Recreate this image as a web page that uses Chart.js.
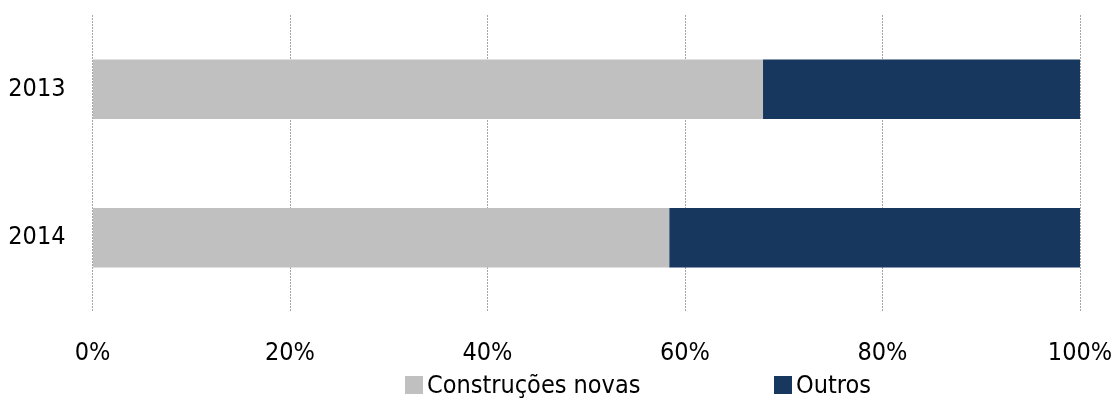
<!DOCTYPE html>
<html>
<head>
<meta charset="utf-8">
<script src="https://cdn.jsdelivr.net/npm/chart.js@4/dist/chart.umd.min.js"></script>
<style>
    body { margin: 0; background: #fff; }
    #wrap { position: relative; width: 1116px; height: 398px; }
    #legend { position: absolute; left: 0; top: 371px; width: 1116px; height: 27px;
        font-family: "DejaVu Sans Condensed", "DejaVu Sans", sans-serif; font-size: 25px; color: #000; }
    .item { position: absolute; top: 0; white-space: nowrap; line-height: 27px; }
    .box { display: inline-block; width: 18px; height: 18px; margin-right: 4px; vertical-align: -1px; }
</style>
</head>
<body>
<div id="wrap">
    <canvas id="myChart" width="1116" height="398"></canvas>
    <div id="legend"></div>
</div>
<script>
var years = ['2013', '2014'];
var seriesNames = ['Construções novas', 'Outros'];
var construcoes = [67.9, 58.4];
var outros = [32.1, 41.6];
var seriesColors = ['#c0c0c0', '#17375e'];
var xTicks = [0, 20, 40, 60, 80, 100];

var font = { family: '"DejaVu Sans Condensed", "DejaVu Sans", sans-serif', size: 25 };

var ctx = document.getElementById('myChart').getContext('2d');
var chart = new Chart(ctx, {
    type: 'bar',
    data: {
        labels: years,
        datasets: [{
            label: seriesNames[0],
            backgroundColor: seriesColors[0],
            data: construcoes
        }, {
            label: seriesNames[1],
            backgroundColor: seriesColors[1],
            data: outros
        }]
    },
    options: {
        indexAxis: 'y',
        responsive: false,
        animation: false,
        layout: { padding: { top: 15, right: 36, left: 0, bottom: 0 } },
        datasets: { bar: { barPercentage: 0.4, categoryPercentage: 1 } },
        plugins: {
            legend: { display: false },
            tooltip: { enabled: false }
        },
        scales: {
            x: {
                stacked: true,
                min: 0,
                max: 100,
                afterBuildTicks: function(axis) {
                    axis.ticks = xTicks.map(function(v) { return { value: v }; });
                },
                afterFit: function(axis) {
                    axis.height = 86;
                    axis.paddingLeft = 0;
                    axis.paddingRight = 0;
                },
                border: { display: false, dash: [2, 1] },
                grid: { color: '#a6a6a6', lineWidth: 1, drawTicks: false },
                ticks: {
                    color: '#000',
                    font: font,
                    padding: 26,
                    maxRotation: 0,
                    callback: function(v) { return v + '%'; }
                }
            },
            y: {
                stacked: true,
                afterFit: function(axis) {
                    axis.width = 92.5;
                    axis.paddingTop = 0;
                    axis.paddingBottom = 0;
                },
                border: { display: false },
                grid: { display: false, drawTicks: false },
                ticks: { color: '#000', font: font, padding: 27 }
            }
        }
    }
});

// legend below the chart, like the original
var lefts = [405, 774];
var add_row = '';
for (var i = 0; i < seriesNames.length; i++) {
    add_row += "<span class='item' style='left:" + lefts[i] + "px'><span class='box' style='background:" + seriesColors[i] + "'></span>" + seriesNames[i] + "</span>";
}
document.getElementById('legend').innerHTML = add_row;
</script>
</body>
</html>
